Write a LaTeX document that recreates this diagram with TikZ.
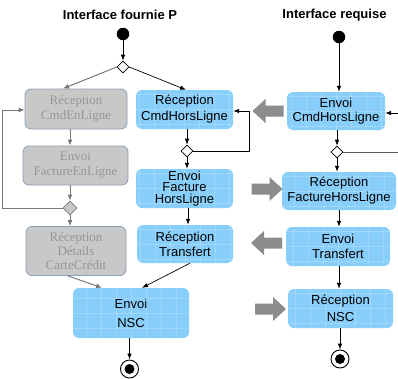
\documentclass[tikz,border=0pt]{standalone}
\usepackage{fontspec}
\setmainfont{Liberation Sans}
\newfontfamily\grayserif{Liberation Serif}
\usetikzlibrary{arrows.meta,shapes.geometric}
\definecolor{boxblue}{RGB}{135,206,250}
\definecolor{boxgray}{RGB}{200,200,200}
\definecolor{graytext}{RGB}{150,150,150}
\definecolor{grayline}{RGB}{120,120,120}
\definecolor{grayborder}{RGB}{140,160,180}
\definecolor{blockgray}{RGB}{140,140,140}
\tikzset{
  bluebox/.style={rectangle, rounded corners=6pt, fill=boxblue, inner sep=0pt, align=center,
    font=\fontsize{13}{15}\selectfont,
    path picture={
      \foreach \i in {-60,-45,...,60}{
        \draw[white,opacity=.2,line width=.5pt] ([xshift=\i pt]path picture bounding box.north) -- ([xshift=\i pt]path picture bounding box.south);}
      \foreach \j in {-30,-15,...,30}{
        \draw[white,opacity=.2,line width=.5pt] ([yshift=\j pt]path picture bounding box.west) -- ([yshift=\j pt]path picture bounding box.east);}
    }},
  graybox/.style={rectangle, rounded corners=6pt, fill=boxgray, draw=grayborder, line width=0.8pt,
    inner sep=0pt, align=center, text=graytext, font=\grayserif\fontsize{13}{15}\selectfont},
  startdot/.style={circle, fill=black, minimum size=12.5pt, inner sep=0pt},
  enddot/.style={circle, draw=black, line width=0.9pt, minimum size=18pt, inner sep=0pt,
    path picture={\fill[black] (path picture bounding box.center) circle (5pt);}},
  decision/.style={diamond, draw=black, fill=white, minimum width=12pt, minimum height=12pt, inner sep=0pt, line width=0.6pt},
  graydecision/.style={diamond, draw=grayline, fill=boxgray, minimum width=14pt, minimum height=14pt, inner sep=0pt, line width=0.8pt},
  arr/.style={-{Latex[length=6pt,width=4.5pt]}, line width=0.7pt},
  grayarr/.style={-{Latex[length=6pt,width=5pt]}, draw=grayline, line width=1pt},
  title/.style={font=\bfseries\fontsize{13}{15}\selectfont},
  blockL/.pic={\fill[blockgray] (-15.5,0) -- (-2.5,-12) -- (-2.5,-5.5) -- (15.5,-5.5) -- (15.5,5.5) -- (-2.5,5.5) -- (-2.5,12) -- cycle;},
  blockR/.pic={\fill[blockgray] (15.5,0) -- (2.5,-12) -- (2.5,-5.5) -- (-15.5,-5.5) -- (-15.5,5.5) -- (2.5,5.5) -- (2.5,12) -- cycle;},
}
\begin{document}
\begin{tikzpicture}[x=1pt,y=-1pt]
\fill[white] (0,0) rectangle (398,378);
\useasboundingbox (0,0) rectangle (398,378);

% titles
\node[title] (t1) at (120,15) {Interface fournie P};
\node[title] (t2) at (334.5,15) {Interface requise};

% left column (provided interface)
\node[startdot] (s1) at (123,34) {};
\node[decision] (d1) at (123,67) {};
\node[graybox, minimum width=102pt, minimum height=40pt] (rcel) at (76,109) {Réception\\CmdEnLigne};
\node[graybox, minimum width=105pt, minimum height=39pt] (efel) at (75.5,165.5) {Envoi\\FactureEnLigne};
\node[graydecision] (d2) at (70,208) {};
\node[graybox, minimum width=100pt, minimum height=49pt, font=\grayserif\fontsize{13}{14}\selectfont] (rdcc) at (76,251) {Réception\\Détails\\CarteCrédit};

\node[bluebox, minimum width=97pt, minimum height=39pt, font=\fontsize{13}{16}\selectfont] (rch) at (184.5,109.5) {Réception\\CmdHorsLigne};
\node[decision] (d3) at (187,151) {};
\node[bluebox, minimum width=97pt, minimum height=39pt, font=\fontsize{13}{11.5}\selectfont] (efh) at (184.5,188.5) {Envoi\\Facture\\HorsLigne};
\node[bluebox, minimum width=96pt, minimum height=38pt] (rt) at (185,244) {Réception\\Transfert};
\node[bluebox, minimum width=116pt, minimum height=50pt, font=\fontsize{13}{19}\selectfont] (ensc) at (131,313) {Envoi\\NSC};
\node[enddot] (e1) at (129.5,369) {};

% right column (required interface)
\node[startdot] (s2) at (339,37) {};
\node[bluebox, minimum width=98pt, minimum height=38pt, font=\fontsize{13}{14}\selectfont] (ech) at (336,111) {Envoi\\CmdHorsLigne};
\node[decision] (d4) at (337,152) {};
\node[bluebox, minimum width=114pt, minimum height=38pt] (rfh) at (339,191) {Réception\\FactureHorsLigne};
\node[bluebox, minimum width=104pt, minimum height=39pt] (et) at (338,246.5) {Envoi\\Transfert};
\node[bluebox, minimum width=105pt, minimum height=39pt, font=\fontsize{13}{17}\selectfont] (rnsc) at (340.5,308.5) {Réception\\NSC};
\node[enddot] (e2) at (340,359) {};

\coordinate (in2) at (398,113);
\coordinate (out2) at (398,152);

% block arrows between the interfaces
\pic at (268,111) {blockL};
\pic at (267,189) {blockR};
\pic at (266.5,243) {blockL};
\pic at (270.5,309) {blockR};

% left connectors
\draw[arr] (s1) -- (d1.north);
\draw[grayarr] (d1.west) -- ([xshift=-13pt]rcel.north);
\draw[arr] (d1.east) -- ([xshift=1.5pt]rch.north);
\draw[grayarr] (rcel.south -| d2.center) -- (efel.north -| d2.center);
\draw[grayarr] (efel.south -| d2.center) -- (d2.north);
\draw[grayarr] (d2.south) -- (rdcc.north -| d2.center);
\draw[grayarr] (d2.west) -- ++(-60,0) |- ([yshift=-1pt]rcel.west);
\draw[grayarr] ([xshift=-8pt]rdcc.south) -- ([xshift=-29pt]ensc.north);

\draw[arr] (rch.south -| d3.center) -- (d3.north);
\draw[arr] (d3.south) -- (efh.north -| d3.center);
\draw[arr] (d3.east) -- ++(56,0) |- ([yshift=-1.5pt]rch.east);
\draw[arr] ([xshift=3.5pt]efh.south) -- ([xshift=3.5pt]efh.south |- rt.north);
\draw[arr] ([xshift=5pt]rt.south) -- ([xshift=11pt]ensc.north);
\draw[arr] (ensc.south -| e1.center) -- (e1.north);

% right connectors
\draw[arr] (s2) -- (ech.north -| s2.center);
\draw[arr] (in2) -- (ech.east |- in2);
\draw[arr] (ech.south -| d4.center) -- (d4.north);
\draw[draw=black!65, line width=1pt] (d4.east) -- (out2);
\draw[arr] (d4.south) -- (rfh.north -| d4.center);
\draw[arr] (rfh.south) -- (et.north -| rfh.south);
\draw[arr] (et.south -| rfh.south) -- (rnsc.north -| rfh.south);
\draw[arr] (rnsc.south -| e2.center) -- (e2.north);
\end{tikzpicture}
\end{document}
